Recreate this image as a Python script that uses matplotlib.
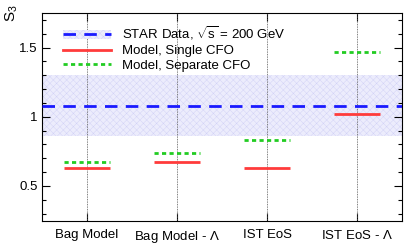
import matplotlib
matplotlib.use('Agg')
import matplotlib.pyplot as plt
import matplotlib.patches as mpatches
from matplotlib.lines import Line2D
from matplotlib.ticker import MultipleLocator

plt.rcParams['font.family'] = ['Liberation Sans', 'DejaVu Sans']
plt.rcParams['mathtext.fontset'] = 'custom'
plt.rcParams['mathtext.rm'] = 'Liberation Sans'
plt.rcParams['mathtext.it'] = 'Liberation Sans'
plt.rcParams['hatch.linewidth'] = 0.3

# ── data ──────────────────────────────────────────────────────────────────────
categories = ['Bag Model', r'Bag Model - $\Lambda$', 'IST EoS', r'IST EoS - $\Lambda$']
single_cfo = [0.63, 0.67, 0.63, 1.02]
separate_cfo = [0.67, 0.74, 0.83, 1.47]
star_value = 1.08
star_low, star_high = 0.86, 1.30

BLUE = '#1a1aff'
RED = '#ff3b3b'
GREEN = '#22cc22'
BAND_FC = '#ececfc'
BAND_EC = '#d0d0f6'

fig = plt.figure(figsize=(4.15, 2.46), dpi=100)
ax = fig.add_axes([42 / 415, 1 - 220.5 / 246, 360 / 415, 207.5 / 246])

xs = [i + 0.5 for i in range(len(categories))]
ax.set_xlim(0, len(categories))
ax.set_ylim(0.25, 1.75)

# STAR band + central value
ax.axhspan(star_low, star_high, facecolor=BAND_FC, edgecolor=BAND_EC,
           hatch='xxxxx', linewidth=0, zorder=1)
ax.axhline(star_value, color=BLUE, lw=2.0, dashes=(4.5, 3), zorder=3)

for x in xs:
    ax.axvline(x, color='#555555', lw=0.6, ls=(0, (1, 1)), zorder=2)

hw = 0.26
for x, s, p in zip(xs, single_cfo, separate_cfo):
    ax.hlines(s, x - hw, x + hw, color=RED, lw=2.0, zorder=4)
    ax.hlines(p, x - hw, x + hw, color=GREEN, lw=2.0, linestyles=(0, (1.5, 1.2)), zorder=4)

ax.set_xticks(xs)
ax.set_xticklabels(categories, fontsize=9.5)
ax.yaxis.set_minor_locator(MultipleLocator(0.1))
ax.set_yticks([0.5, 1.0, 1.5])
ax.set_yticklabels(['0.5', '1', '1.5'], fontsize=9.5)
ax.tick_params(axis='both', which='both', direction='in', top=True, right=True)
ax.tick_params(axis='y', which='major', length=6, width=0.8, pad=3)
ax.tick_params(axis='y', which='minor', length=3, width=0.8)
ax.tick_params(axis='x', which='major', length=6, width=0.8, pad=6)
for sp in ax.spines.values():
    sp.set_linewidth(0.8)

fig.text(4 / 415, 1 - 4 / 246, 'S$_3$', fontsize=11, rotation=90, ha='left', va='top')

band_patch = mpatches.Patch(facecolor=BAND_FC, edgecolor=BAND_EC, hatch='xxxxx', lw=0)
star_line = Line2D([], [], color=BLUE, lw=2.0, dashes=(4.5, 3))
red_line = Line2D([], [], color=RED, lw=2.0)
green_line = Line2D([], [], color=GREEN, lw=2.0, ls=(0, (1.5, 1.2)))
ax.legend([(band_patch, star_line), red_line, green_line],
          [r'STAR Data, $\sqrt{s}$ = 200 GeV', 'Model, Single CFO', 'Model, Separate CFO'],
          loc='upper left', bbox_to_anchor=(0.045, 0.97), frameon=False, fontsize=9.5,
          handlelength=3.6, labelspacing=0.2, handletextpad=0.8, borderaxespad=0)

fig.savefig('out.png', dpi=100)
